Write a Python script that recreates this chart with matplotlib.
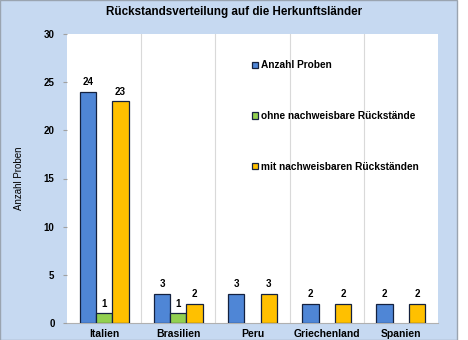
import numpy as np
from matplotlib import pyplot as plt
from matplotlib.patches import Rectangle

plt.rcParams['font.family'] = ['Liberation Sans', 'DejaVu Sans']
plt.rcParams['font.weight'] = 'bold'

countries = ['Italien', 'Brasilien', 'Peru', 'Griechenland', 'Spanien']
anzahl = [24, 3, 3, 2, 2]
ohne = [1, 1, 0, 0, 0]
mit = [23, 2, 3, 2, 2]
series_names = ['Anzahl Proben', 'ohne nachweisbare Rückstände', 'mit nachweisbaren Rückständen']
colors = ['#4f86d6', '#92d050', '#ffc000']

fig = plt.figure(figsize=(4.68, 3.4), dpi=100)
fig.patch.set_facecolor('white')
# light blue chart area with border line on the right
fig.patches.append(Rectangle((0, 0), 457 / 468, 1, transform=fig.transFigure,
                             facecolor='#c6d9f1', edgecolor='#9aa4b0', linewidth=1, zorder=-1))

ax = fig.add_axes([67 / 468, 17 / 340, 371 / 468, 289 / 340])
ax.set_facecolor('white')

x = np.arange(len(countries))
w = 0.22
all_series = [anzahl, ohne, mit]
for i, vals in enumerate(all_series):
    pos = x + (i - 1) * w
    for p, v in zip(pos, vals):
        if v == 0:
            continue
        ax.bar(p, v, w, color=colors[i], edgecolor='#14213f', linewidth=0.9, zorder=3,
               label=series_names[i] if p == pos[0] else None)
        ax.text(p, v + 0.5, str(v), ha='center', va='bottom', fontsize=7, fontweight='bold')

ax.set_xlim(-0.5, len(countries) - 0.5)
ax.set_ylim(0, 30)
ax.set_yticks(range(0, 31, 5))
ax.set_xticks(x)
ax.set_xticklabels(countries, fontsize=7.5, fontweight='bold')
ax.tick_params(axis='y', labelsize=7, length=3, color='#a0a0a0', pad=6)
ax.tick_params(axis='x', length=0, pad=4)

# separators between categories
for s in x[:-1] + 0.5:
    ax.axvline(s, color='#d9d9d9', linewidth=0.8, zorder=1)

for side in ['top', 'right', 'left']:
    ax.spines[side].set_visible(False)
ax.spines['bottom'].set_color('#b0b0b0')

ax.set_ylabel('Anzahl Proben', fontsize=7, fontweight='normal', labelpad=14)
fig.text(0.5, 0.965, 'Rückstandsverteilung auf die Herkunftsländer', ha='center', va='center',
         fontsize=8.4, fontweight='bold')

ax.legend(loc='upper left', bbox_to_anchor=(0.475, 0.94), frameon=False, fontsize=7.3,
          handlelength=0.6, handleheight=0.6, handletextpad=0.3, labelspacing=4.0)

plt.savefig('out.png', dpi=100)
